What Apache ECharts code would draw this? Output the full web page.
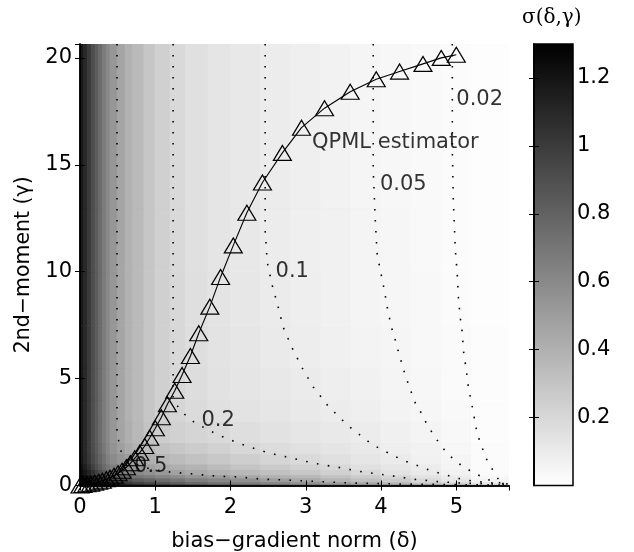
<!DOCTYPE html>
<html>
<head>
<meta charset="utf-8">
<script src="https://cdn.jsdelivr.net/npm/echarts@6/dist/echarts.min.js"></script>
<style>
  body { margin: 0; background: #fff; }
  #chart { width: 634px; height: 552px; }
</style>
</head>
<body>
<div id="chart"></div>
<script>
// heat map cells: column edges (delta), row edges (gamma), sigma per row (bottom row first)
const deltaEdges = [0, 0.05, 0.1, 0.15, 0.2, 0.25, 0.3, 0.35, 0.4, 0.5, 0.6, 0.7, 0.85, 1.0, 1.2, 1.4, 1.7, 2.0, 2.4, 2.8, 3.2, 3.6, 4.0, 4.4, 4.8, 5.2, 5.7];
const gammaEdges = [0, 0.1, 0.2, 0.35, 0.5, 0.75, 1.0, 1.5, 2.0, 3.0, 4.0, 5.5, 7.5, 10, 13, 20.65];
const sigmaRows = [
  [1.30, 1.30, 1.30, 1.30, 1.29, 1.27, 1.25, 1.23, 1.20, 1.16, 1.12, 1.08, 1.03, 0.98, 0.93, 0.88, 0.83, 0.78, 0.73, 0.68, 0.63, 0.58, 0.53, 0.48, 0.38, 0.24],
  [1.30, 1.30, 1.28, 1.26, 1.23, 1.20, 1.17, 1.14, 1.10, 1.05, 1.00, 0.95, 0.90, 0.85, 0.80, 0.75, 0.70, 0.64, 0.59, 0.54, 0.48, 0.41, 0.33, 0.25, 0.18, 0.10],
  [1.30, 1.28, 1.24, 1.20, 1.15, 1.10, 1.06, 1.02, 0.97, 0.92, 0.88, 0.83, 0.79, 0.74, 0.70, 0.65, 0.61, 0.56, 0.50, 0.44, 0.38, 0.32, 0.26, 0.195, 0.12, 0.055],
  [1.30, 1.24, 1.18, 1.12, 1.06, 1.00, 0.95, 0.90, 0.85, 0.80, 0.75, 0.70, 0.66, 0.62, 0.58, 0.54, 0.50, 0.45, 0.40, 0.36, 0.31, 0.26, 0.205, 0.15, 0.095, 0.035],
  [1.26, 1.19, 1.12, 1.05, 0.98, 0.91, 0.85, 0.80, 0.74, 0.68, 0.64, 0.60, 0.56, 0.52, 0.48, 0.44, 0.40, 0.36, 0.32, 0.28, 0.24, 0.20, 0.15, 0.105, 0.065, 0.022],
  [1.22, 1.14, 1.06, 0.98, 0.90, 0.83, 0.76, 0.70, 0.65, 0.60, 0.56, 0.52, 0.48, 0.44, 0.41, 0.38, 0.34, 0.30, 0.265, 0.23, 0.20, 0.16, 0.125, 0.095, 0.055, 0.02],
  [1.19, 1.10, 1.02, 0.94, 0.86, 0.79, 0.72, 0.65, 0.59, 0.54, 0.495, 0.45, 0.41, 0.37, 0.34, 0.31, 0.28, 0.25, 0.215, 0.19, 0.16, 0.13, 0.103, 0.072, 0.049, 0.02],
  [1.18, 1.09, 1.00, 0.92, 0.84, 0.76, 0.69, 0.62, 0.55, 0.49, 0.44, 0.39, 0.34, 0.31, 0.285, 0.26, 0.235, 0.205, 0.18, 0.155, 0.135, 0.11, 0.088, 0.065, 0.043, 0.02],
  [1.18, 1.09, 1.00, 0.91, 0.83, 0.75, 0.67, 0.60, 0.53, 0.465, 0.41, 0.36, 0.30, 0.255, 0.235, 0.213, 0.193, 0.17, 0.15, 0.13, 0.112, 0.095, 0.075, 0.054, 0.036, 0.017],
  [1.18, 1.09, 1.00, 0.91, 0.83, 0.75, 0.67, 0.60, 0.53, 0.46, 0.40, 0.35, 0.29, 0.24, 0.207, 0.183, 0.16, 0.142, 0.126, 0.112, 0.099, 0.082, 0.063, 0.047, 0.03, 0.016],
  [1.18, 1.09, 1.00, 0.91, 0.83, 0.75, 0.67, 0.60, 0.53, 0.46, 0.40, 0.35, 0.29, 0.24, 0.20, 0.172, 0.15, 0.132, 0.117, 0.102, 0.085, 0.069, 0.055, 0.043, 0.027, 0.015],
  [1.18, 1.09, 1.00, 0.91, 0.83, 0.75, 0.67, 0.60, 0.53, 0.46, 0.40, 0.35, 0.29, 0.24, 0.198, 0.168, 0.145, 0.125, 0.108, 0.093, 0.078, 0.063, 0.05, 0.038, 0.023, 0.013],
  [1.18, 1.09, 1.00, 0.91, 0.83, 0.75, 0.67, 0.60, 0.53, 0.46, 0.40, 0.35, 0.29, 0.24, 0.197, 0.165, 0.14, 0.12, 0.10, 0.087, 0.073, 0.058, 0.047, 0.035, 0.021, 0.012],
  [1.18, 1.09, 1.00, 0.91, 0.83, 0.75, 0.67, 0.60, 0.53, 0.46, 0.40, 0.35, 0.29, 0.24, 0.195, 0.16, 0.135, 0.115, 0.097, 0.083, 0.069, 0.054, 0.044, 0.033, 0.02, 0.011],
  [1.18, 1.09, 1.00, 0.91, 0.83, 0.75, 0.67, 0.60, 0.53, 0.46, 0.40, 0.35, 0.29, 0.24, 0.195, 0.16, 0.135, 0.115, 0.096, 0.082, 0.068, 0.053, 0.043, 0.032, 0.019, 0.01]
];
const colorbarRange = [0, 1.3];

// QPML estimator (delta, gamma)
const qpmlCurve = [
  [0, 0], [0.04, 0.02], [0.093, 0.056], [0.142, 0.084], [0.195, 0.13], [0.249, 0.178],
  [0.297, 0.225], [0.35, 0.29], [0.399, 0.365], [0.452, 0.458], [0.505, 0.571], [0.559, 0.692],
  [0.616, 0.851], [0.669, 1.039], [0.727, 1.273], [0.794, 1.535], [0.86, 1.848], [0.927, 2.236],
  [1.001, 2.676], [1.081, 3.19], [1.161, 3.8], [1.259, 4.435], [1.356, 5.17], [1.467, 6.06],
  [1.578, 7.12], [1.725, 8.365], [1.868, 9.755], [2.037, 11.23], [2.217, 12.76], [2.424, 14.175],
  [2.689, 15.556], [2.943, 16.735], [3.249, 17.647], [3.59, 18.42], [3.936, 19.0], [4.246, 19.36],
  [4.557, 19.72], [4.8, 20.0], [5.0, 20.15]
];

// dotted contour lines of sigma
const contour050 = [[0.492, 20.65], [0.492, 2.6], [0.532, 1.66], [0.665, 1.1], [0.931, 0.77], [1.197, 0.63], [1.503, 0.54], [1.809, 0.44], [2.101, 0.4], [2.407, 0.3], [2.699, 0.26], [3.005, 0.21], [3.298, 0.164], [3.59, 0.117], [4.255, 0.07], [4.92, 0.042], [5.7, 0.019]];
const contour020 = [[1.237, 20.65], [1.237, 4.0], [1.303, 3.68], [1.4, 3.3], [1.525, 2.94], [1.791, 2.44], [1.924, 2.24], [2.057, 2.05], [2.203, 1.86], [2.354, 1.69], [2.5, 1.53], [2.66, 1.4], [2.806, 1.29], [2.952, 1.17], [3.098, 1.05], [3.245, 0.96], [3.391, 0.87], [3.524, 0.8], [3.67, 0.68], [3.816, 0.61], [3.963, 0.54], [4.109, 0.47], [4.255, 0.4], [4.4, 0.3], [4.548, 0.26], [4.707, 0.19], [5.053, 0.117], [5.7, 0.047]];
const contour010 = [[2.46, 20.65], [2.46, 11.95], [2.487, 10.46], [2.553, 9.38], [2.633, 8.35], [2.699, 7.41], [2.819, 6.43], [2.952, 5.5], [3.098, 4.61], [3.205, 4.14], [3.285, 3.77], [3.391, 3.39], [3.511, 2.97], [3.617, 2.64], [3.737, 2.32], [3.856, 1.99], [3.989, 1.71], [4.122, 1.48], [4.255, 1.24], [4.388, 1.05], [4.535, 0.87], [4.668, 0.68], [4.814, 0.54], [4.96, 0.4], [5.106, 0.26], [5.386, 0.14], [5.7, 0.07]];
const contour005 = [[3.896, 20.65], [3.896, 14.76], [3.923, 12.42], [3.949, 10.78], [4.003, 9.85], [4.043, 9.15], [4.082, 8.35], [4.136, 7.42], [4.189, 6.81], [4.242, 6.11], [4.309, 5.31], [4.375, 4.61], [4.455, 3.86], [4.535, 3.39], [4.601, 2.92], [4.681, 2.46], [4.761, 2.04], [4.854, 1.61], [4.96, 1.24], [5.08, 0.91], [5.213, 0.63], [5.346, 0.4], [5.465, 0.21], [5.585, 0.117], [5.7, 0.06]];
const contour002 = [[4.947, 20.65], [4.947, 15.7], [4.96, 13.36], [4.987, 11.02], [5.013, 9.85], [5.027, 8.82], [5.053, 7.84], [5.08, 7.13], [5.093, 6.34], [5.133, 5.4], [5.16, 4.61], [5.186, 4.14], [5.213, 3.67], [5.266, 2.64], [5.306, 2.13], [5.359, 1.61], [5.412, 1.15], [5.492, 0.68], [5.572, 0.21], [5.652, 0.09], [5.7, 0.06]];
const contourLabels = ['0.5', '0.2', '0.1', '0.05', '0.02'];
const contourLabelPos = [[0.94, 0.89], [1.835, 3.02], [2.82, 10.03], [4.295, 14.06], [5.31, 18.06]];
const curveLabel = 'QPML estimator';
const curveLabelPos = [4.19, 16.05];

const FONT = 'DejaVu Sans';

const cells = [];
sigmaRows.forEach((row, j) => {
  row.forEach((s, i) => {
    cells.push([deltaEdges[i], deltaEdges[i + 1], gammaEdges[j], gammaEdges[j + 1], s]);
  });
});

const chart = echarts.init(document.getElementById('chart'), null, { renderer: 'canvas' });

const frameAxis = {
  type: 'value',
  axisLine: { show: true, lineStyle: { color: '#000', width: 1.5 } },
  axisTick: { show: true, inside: true, length: 5, lineStyle: { color: '#000', width: 1 } },
  splitLine: { show: false },
  z: 10
};

function contourSeries(data) {
  return {
    type: 'line',
    data: data,
    showSymbol: false,
    silent: true,
    z: 3,
    lineStyle: { color: '#000', width: 1.6, type: [1.6, 9.4] }
  };
}

const option = {
  animation: false,
  backgroundColor: '#fff',
  title: {
    text: 'σ(δ,γ)',
    left: 522,
    top: 8,
    padding: 0,
    textStyle: { fontFamily: 'DejaVu Serif', fontSize: 20, fontWeight: 'normal', color: '#000' }
  },
  grid: [
    { left: 80, right: 125, top: 44, bottom: 66.5, outerBoundsMode: 'none' },
    { left: 534, right: 61, top: 44, bottom: 66.5, outerBoundsMode: 'none' }
  ],
  visualMap: {
    show: false,
    type: 'continuous',
    min: colorbarRange[0],
    max: colorbarRange[1],
    seriesIndex: 0,
    dimension: 4,
    inRange: { color: ['#ffffff', '#000000'] }
  },
  xAxis: [
    Object.assign({}, frameAxis, {
      gridIndex: 0, position: 'bottom', min: 0, max: 5.7, interval: 1,
      name: 'bias−gradient norm (δ)', nameLocation: 'middle', nameGap: 46,
      nameTextStyle: { fontFamily: FONT, fontSize: 21, color: '#000' },
      axisLabel: { show: true, margin: 12, fontFamily: FONT, fontSize: 21, color: '#000', showMaxLabel: false }
    }),
    Object.assign({}, frameAxis, {
      gridIndex: 0, position: 'top', min: 0, max: 5.7, interval: 1,
      axisLabel: { show: false }
    }),
    {
      type: 'value', gridIndex: 1, min: 0, max: 1, show: false
    }
  ],
  yAxis: [
    Object.assign({}, frameAxis, {
      gridIndex: 0, position: 'left', min: 0, max: 20.65, interval: 5,
      name: '2nd−moment (γ)', nameLocation: 'middle', nameGap: 42,
      nameTextStyle: { fontFamily: FONT, fontSize: 20.5, color: '#000' },
      axisLabel: { show: true, margin: 8, fontFamily: FONT, fontSize: 21, color: '#000', showMaxLabel: false }
    }),
    Object.assign({}, frameAxis, {
      gridIndex: 0, position: 'right', min: 0, max: 20.65, interval: 5,
      axisLabel: { show: false }
    }),
    Object.assign({}, frameAxis, {
      gridIndex: 1, position: 'right', min: colorbarRange[0], max: colorbarRange[1], interval: 0.2,
      axisLabel: { show: true, margin: 4, fontFamily: FONT, fontSize: 21, color: '#000', showMaxLabel: false, showMinLabel: false }
    }),
    Object.assign({}, frameAxis, {
      gridIndex: 1, position: 'left', min: colorbarRange[0], max: colorbarRange[1], interval: 0.2,
      axisLabel: { show: false }
    })
  ],
  series: [
    {
      type: 'custom',
      xAxisIndex: 0,
      yAxisIndex: 0,
      data: cells,
      encode: { x: [0, 1], y: [2, 3] },
      clip: true,
      silent: true,
      z: 1,
      renderItem: function (params, api) {
        const p0 = api.coord([api.value(0), api.value(3)]);
        const p1 = api.coord([api.value(1), api.value(2)]);
        const c = api.visual('color');
        return {
          type: 'rect',
          shape: { x: p0[0], y: p0[1], width: p1[0] - p0[0], height: p1[1] - p0[1] },
          style: { fill: c, stroke: c, lineWidth: 0.8 }
        };
      }
    },
    contourSeries(contour050),
    contourSeries(contour020),
    contourSeries(contour010),
    contourSeries(contour005),
    contourSeries(contour002),
    {
      type: 'line',
      data: qpmlCurve,
      symbol: 'triangle',
      symbolSize: [18, 15],
      showSymbol: true,
      showAllSymbol: true,
      clip: false,
      silent: true,
      z: 4,
      lineStyle: { color: '#000', width: 1.1 },
      itemStyle: { color: 'rgba(0,0,0,0)', borderColor: '#000', borderWidth: 1.2 }
    },
    {
      type: 'scatter',
      data: contourLabels.map((t, i) => ({ name: t, value: contourLabelPos[i] })).concat([{ name: curveLabel, value: curveLabelPos }]),
      symbolSize: 1,
      silent: true,
      z: 5,
      itemStyle: { color: 'rgba(0,0,0,0)' },
      label: {
        show: true,
        position: 'inside',
        formatter: '{b}',
        fontFamily: FONT,
        fontSize: 21,
        color: '#000'
      }
    },
    {
      type: 'custom',
      xAxisIndex: 2,
      yAxisIndex: 2,
      data: [[0, 1, colorbarRange[0], colorbarRange[1]]],
      silent: true,
      z: 1,
      renderItem: function (params, api) {
        const p0 = api.coord([api.value(0), api.value(3)]);
        const p1 = api.coord([api.value(1), api.value(2)]);
        return {
          type: 'rect',
          shape: { x: p0[0], y: p0[1], width: p1[0] - p0[0], height: p1[1] - p0[1] },
          style: {
            fill: new echarts.graphic.LinearGradient(0, 0, 0, 1, [
              { offset: 0, color: '#000000' },
              { offset: 1, color: '#ffffff' }
            ]),
            stroke: '#000',
            lineWidth: 1.5
          }
        };
      }
    }
  ]
};

chart.setOption(option);
</script>
</body>
</html>
